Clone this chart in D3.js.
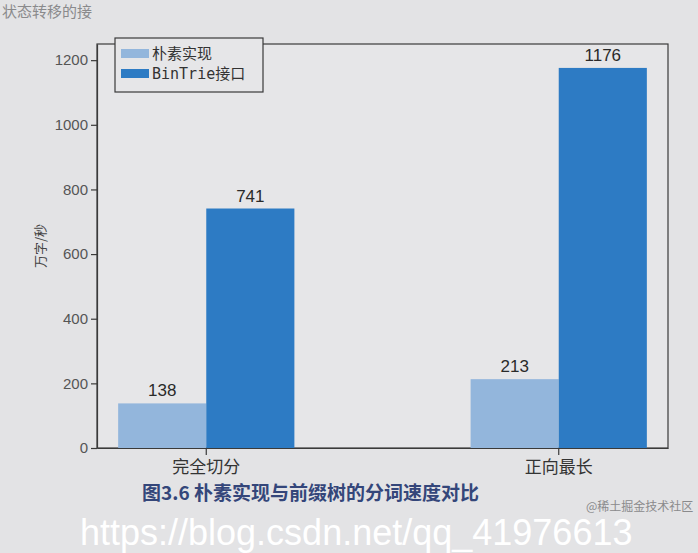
<!DOCTYPE html>
<html>
<head>
<meta charset="utf-8">
<script src="https://cdn.jsdelivr.net/npm/d3@7"></script>
<style>
  body { margin: 0; background: #e3e3e5; }
  svg { display: block; }
</style>
</head>
<body>
<div id="chart"></div>
<script>
// Data
const categories = ["完全切分", "正向最长"];
const seriesNames = ["朴素实现", "BinTrie接口"];
const naiveValues = [138, 213];
const binTrieValues = [741, 1176];
const yTicks = [0, 200, 400, 600, 800, 1000, 1200];

const W = 698, H = 553;
const margin = {top: 44, right: 30, bottom: 105, left: 97};
const width = W - margin.left - margin.right;
const height = H - margin.top - margin.bottom;
const colors = ["#93b6dc", "#2d7bc4"];

const svg = d3.select("#chart").append("svg")
    .attr("width", W)
    .attr("height", H);

// page text at the top of the photo
svg.append("text")
    .attr("x", 2).attr("y", 17)
    .style("font-family", "Noto Sans CJK SC")
    .style("font-size", "15px")
    .style("fill", "#8a8a8c")
    .text("状态转移的接");

const g = svg.append("g")
    .attr("transform", `translate(${margin.left},${margin.top})`);

const y = d3.scaleLinear().domain([0, 1250]).range([height, 0]);
const x0 = d3.scaleBand().domain(categories).range([0, width])
    .paddingInner(0.5).paddingOuter(0.06);
const x1 = d3.scaleBand().domain(seriesNames).range([0, x0.bandwidth()]);

const rows = categories.map((c, i) => ({cat: c, vals: [naiveValues[i], binTrieValues[i]]}));

// frame
g.append("rect")
    .attr("width", width).attr("height", height)
    .attr("fill", "#e6e6e8")
    .attr("stroke", "#3a3a3a").attr("stroke-width", 1.2);

const groups = g.selectAll(".grp").data(rows).join("g")
    .attr("transform", d => `translate(${x0(d.cat)},0)`);

groups.selectAll("rect").data(d => d.vals.map((v, j) => ({v, s: seriesNames[j], j})))
    .join("rect")
    .attr("x", d => x1(d.s))
    .attr("y", d => y(d.v))
    .attr("width", x1.bandwidth())
    .attr("height", d => height - y(d.v))
    .attr("fill", d => colors[d.j]);

groups.selectAll("text").data(d => d.vals.map((v, j) => ({v, s: seriesNames[j]})))
    .join("text")
    .attr("x", d => x1(d.s) + x1.bandwidth() / 2)
    .attr("y", d => y(d.v) - 7)
    .attr("text-anchor", "middle")
    .style("font-family", "Liberation Sans, Arial")
    .style("font-size", "17px")
    .style("fill", "#2a2a2a")
    .text(d => d.v);

// axes
const yAxis = g.append("g")
    .call(d3.axisLeft(y).tickValues(yTicks).tickFormat(d3.format("d"))
        .tickSize(6).tickSizeOuter(0));
const xAxis = g.append("g")
    .attr("transform", `translate(0,${height})`)
    .call(d3.axisBottom(x0).tickSize(7).tickSizeOuter(0).tickPadding(6));
[yAxis, xAxis].forEach(a => {
    a.select(".domain").attr("stroke", "#3a3a3a").attr("stroke-width", 1.2);
    a.selectAll(".tick line").attr("stroke", "#3a3a3a").attr("stroke-width", 1.2);
});
yAxis.selectAll("text")
    .style("font-family", "Liberation Sans, Arial")
    .style("font-size", "15px")
    .style("fill", "#555");
xAxis.selectAll("text")
    .style("font-family", "Noto Sans CJK SC")
    .style("font-size", "17px")
    .style("fill", "#333");

g.append("text")
    .attr("transform", `translate(-52,${height / 2}) rotate(-90)`)
    .attr("text-anchor", "middle")
    .style("font-family", "Noto Sans CJK SC")
    .style("font-size", "13px")
    .style("fill", "#444")
    .text("万字/秒");

// legend
const legend = g.append("g").attr("transform", "translate(18,-6)");
legend.append("rect")
    .attr("width", 148).attr("height", 54)
    .attr("fill", "#e6e6e8")
    .attr("stroke", "#3a3a3a").attr("stroke-width", 1.2);
seriesNames.forEach((s, i) => {
    const row = legend.append("g").attr("transform", `translate(6,${12 + i * 20})`);
    row.append("rect")
        .attr("y", -1).attr("width", 28).attr("height", 9)
        .attr("fill", colors[i]);
    row.append("text")
        .attr("x", 31).attr("y", 9)
        .style("font-family", "DejaVu Sans Mono, Noto Sans CJK SC")
        .style("font-size", "15px")
        .style("fill", "#333")
        .text(s);
});

// caption under the figure
svg.append("text")
    .attr("x", 142).attr("y", 500)
    .style("font-family", "Noto Sans CJK SC")
    .style("font-size", "19px")
    .style("font-weight", "bold")
    .style("fill", "#34467a")
    .text("图3.6  朴素实现与前缀树的分词速度对比");

svg.append("text")
    .attr("x", 586).attr("y", 511)
    .style("font-family", "Noto Sans CJK SC")
    .style("font-size", "12px")
    .style("fill", "#8a8a8c")
    .text("@稀土掘金技术社区");

// watermark
svg.append("text")
    .attr("x", 80).attr("y", 545)
    .style("font-family", "Liberation Sans, Arial")
    .style("font-size", "36px")
    .style("fill", "#ffffff")
    .text("https://blog.csdn.net/qq_41976613");
</script>
</body>
</html>
